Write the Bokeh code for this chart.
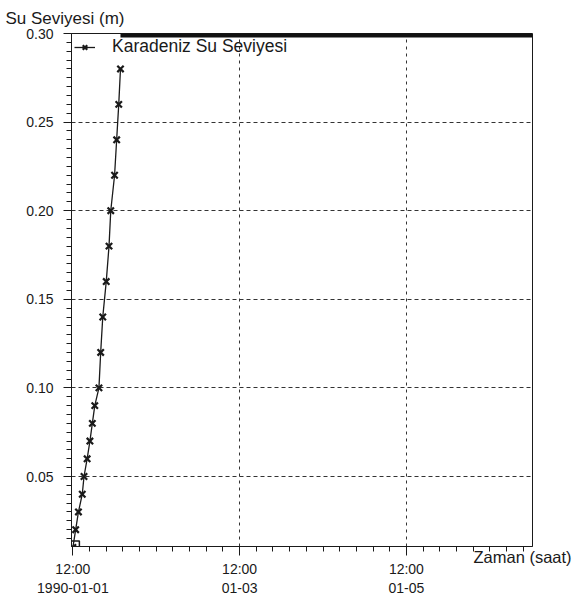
import numpy as np
from bokeh.plotting import figure
from bokeh.models import FixedTicker, LinearAxis, Range1d, Grid, Title
from bokeh.embed import file_html
from bokeh.resources import INLINE

# ---- data (hours after 1990-01-01 12:00, water level in m) ----
hours = [0.0, 0.8, 1.6, 2.7, 3.2, 4.1, 4.9, 5.6, 6.3, 7.5,
         8.0, 8.6, 9.6, 10.4, 10.9, 12.0, 12.6, 13.2, 13.7]
level = [0.01, 0.02, 0.03, 0.04, 0.05, 0.06, 0.07, 0.08, 0.09, 0.10,
         0.12, 0.14, 0.16, 0.18, 0.20, 0.22, 0.24, 0.26, 0.28]
series_name = "Karadeniz Su Seviyesi"

x_tick_hours = [0, 48, 96]
x_tick_time = ["12:00", "12:00", "12:00"]
x_tick_date = ["1990-01-01", "01-03", "01-05"]
y_ticks = [0.05, 0.10, 0.15, 0.20, 0.25, 0.30]
y_tick_labels = ["0.05", "0.10", "0.15", "0.20", "0.25", "0.30"]
x_title = "Zaman (saat)"
y_title = "Su Seviyesi (m)"

X_START, X_END = -0.4, 132.3
Y_START, Y_END = 0.0105, 0.30

FONT = "Liberation Sans"
TXT = "#1a1a1a"
W, H = 574, 597
ML, MT = 71, 33
MR = W - 532
MB = H - 546

p = figure(width=W, height=H, output_backend="svg", toolbar_location=None,
           x_range=Range1d(X_START, X_END), y_range=Range1d(Y_START, Y_END),
           x_axis_type=None, y_axis_type=None,
           min_border_left=ML, min_border_right=MR,
           min_border_top=MT, min_border_bottom=MB)
p.background_fill_color = "white"
p.border_fill_color = "white"
p.outline_line_color = TXT
p.outline_line_width = 1

# y axis title (top-left, horizontal)
p.add_layout(Title(text=y_title, align="left", offset=-66, standoff=12,
                   text_font=FONT, text_font_size="17px", text_font_style="normal",
                   text_color=TXT), "above")

# y axis
yaxis = LinearAxis(
    ticker=FixedTicker(ticks=y_ticks,
                       minor_ticks=[round(v, 3) for v in np.arange(0.01, 0.3001, 0.005)]),
    major_label_overrides=dict(zip(y_ticks, y_tick_labels)))
yaxis.major_tick_out = 8
yaxis.major_tick_in = 0
yaxis.minor_tick_out = 5
yaxis.minor_tick_in = 0
yaxis.major_label_standoff = 10
yaxis.axis_line_color = TXT
yaxis.major_tick_line_color = TXT
yaxis.minor_tick_line_color = TXT
yaxis.major_label_text_font = FONT
yaxis.major_label_text_font_size = "14px"
yaxis.major_label_text_color = TXT
p.add_layout(yaxis, "left")

# x axis (time line)
xaxis = LinearAxis(
    ticker=FixedTicker(ticks=x_tick_hours,
                       minor_ticks=[round(v, 2) for v in np.arange(0, 132.3, 4.8)]),
    major_label_overrides=dict(zip(x_tick_hours, x_tick_time)))
xaxis.major_tick_out = 9
xaxis.major_tick_in = 0
xaxis.minor_tick_out = 5
xaxis.minor_tick_in = 0
xaxis.major_label_standoff = 5
xaxis.axis_line_color = TXT
xaxis.major_tick_line_color = TXT
xaxis.minor_tick_line_color = TXT
xaxis.major_label_text_font = FONT
xaxis.major_label_text_font_size = "14px"
xaxis.major_label_text_color = TXT
p.add_layout(xaxis, "below")

# x axis (date line)
xaxis2 = LinearAxis(
    ticker=FixedTicker(ticks=x_tick_hours, minor_ticks=[]),
    major_label_overrides=dict(zip(x_tick_hours, x_tick_date)))
xaxis2.axis_line_color = None
xaxis2.major_tick_line_color = None
xaxis2.minor_tick_line_color = None
xaxis2.major_tick_out = 0
xaxis2.major_tick_in = 0
xaxis2.major_label_standoff = 3
xaxis2.major_label_text_font = FONT
xaxis2.major_label_text_font_size = "14px"
xaxis2.major_label_text_color = TXT
p.add_layout(xaxis2, "below")

# x axis title: horizontal text at the lower right, beside the time axis
xtitle_axis = LinearAxis(ticker=FixedTicker(ticks=[Y_START], minor_ticks=[]),
                         major_label_overrides={Y_START: "\n" + x_title})
xtitle_axis.axis_line_color = None
xtitle_axis.major_tick_line_color = None
xtitle_axis.minor_tick_line_color = None
xtitle_axis.major_tick_out = 0
xtitle_axis.major_tick_in = 0
xtitle_axis.major_label_standoff = -59
xtitle_axis.major_label_text_font = FONT
xtitle_axis.major_label_text_font_size = "16.5px"
xtitle_axis.major_label_text_color = TXT
p.add_layout(xtitle_axis, "right")

# grids
p.add_layout(Grid(dimension=0, ticker=FixedTicker(ticks=x_tick_hours[1:]),
                  grid_line_color="#333333", grid_line_dash="3 4", grid_line_width=1))
p.add_layout(Grid(dimension=1, ticker=FixedTicker(ticks=y_ticks[:-1]),
                  grid_line_color="#333333", grid_line_dash="4 3", grid_line_width=1.2))

# thick top border segment after the series end
p.segment(x0=[hours[-1]], y0=[Y_END], x1=[X_END], y1=[Y_END],
          line_color="#111111", line_width=8)

# series
p.line(hours, level, line_color=TXT, line_width=1.3, legend_label=series_name)
p.scatter(hours, level, marker="x", size=9, line_width=2.2, line_color=TXT,
          legend_label=series_name)
p.scatter(hours[:1], level[:1], marker="square", size=13, fill_color=None,
          line_color=TXT, line_width=1.5)

lg = p.legend[0]
lg.location = "top_left"
lg.border_line_color = None
lg.background_fill_alpha = 0
lg.label_text_font = FONT
lg.label_text_font_size = "17.5px"
lg.label_text_color = TXT
lg.glyph_width = 21
lg.glyph_height = 16
lg.label_standoff = 17
lg.margin = 3
lg.padding = 3
lg.spacing = 0

open("out.html", "w").write(file_html(p, INLINE))
